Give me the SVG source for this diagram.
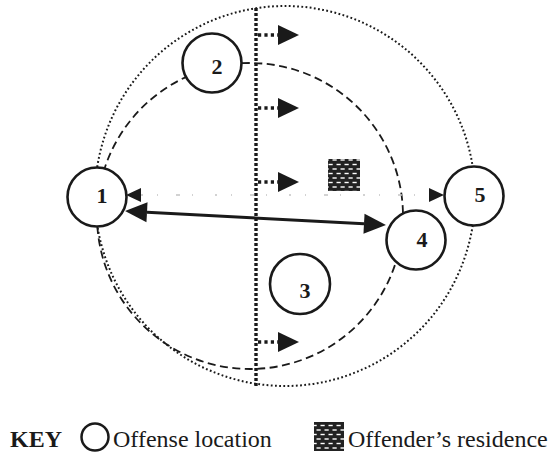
<svg xmlns="http://www.w3.org/2000/svg" width="554" height="454" viewBox="0 0 554 454">
  <style>
    .node { fill: #fff; stroke: #1a1a1a; stroke-width: 2.6; }
    .num { font-family: "Liberation Serif", "Times New Roman", serif; font-weight: bold; font-size: 22px; fill: #1a1a1a; text-anchor: middle; }
    .key { font-family: "Liberation Serif", "Times New Roman", serif; font-size: 24px; fill: #1a1a1a; }
    .range { fill: none; stroke: #1a1a1a; stroke-width: 2; stroke-dasharray: 1.8 2.4; }
    .path { fill: none; stroke: #1a1a1a; stroke-width: 1.8; stroke-dasharray: 8 4.5; }
    .divide { stroke: #1a1a1a; stroke-width: 3.4; stroke-dasharray: 3 2; }
    .shift { stroke: #1a1a1a; stroke-width: 3.4; stroke-dasharray: 3.2 3.2; marker-end: url(#shiftHead); }
    .link { stroke: #1a1a1a; stroke-width: 3; marker-start: url(#bigHead); marker-end: url(#bigHead); }
    .faint { stroke: #c4c4c4; stroke-width: 1.4; stroke-dasharray: 2 14 1 18 4 12 1 22; marker-start: url(#smallHead); marker-end: url(#smallHead); }
  </style>
  <defs>
    <marker id="bigHead" markerUnits="userSpaceOnUse" markerWidth="22" markerHeight="20" refX="0" refY="10" orient="auto-start-reverse" overflow="visible">
      <path d="M0,0 L22,10 L0,20 Z" fill="#1a1a1a"/>
    </marker>
    <marker id="smallHead" markerUnits="userSpaceOnUse" markerWidth="15" markerHeight="14" refX="0" refY="7" orient="auto-start-reverse" overflow="visible">
      <path d="M0,0 L15,7 L0,14 Z" fill="#1a1a1a"/>
    </marker>
    <marker id="shiftHead" markerUnits="userSpaceOnUse" markerWidth="21" markerHeight="20" refX="0" refY="10" orient="auto" overflow="visible">
      <path d="M0,0 L21,10 L0,20 Z" fill="#1a1a1a"/>
    </marker>
    <pattern id="brick" width="8" height="9" patternUnits="userSpaceOnUse">
      <rect width="8" height="9" fill="#222"/>
      <rect x="0.5" y="1.8" width="4.2" height="1.4" fill="#fff"/>
      <rect x="4.5" y="6.3" width="4.2" height="1.4" fill="#fff"/>
      <rect x="-3.5" y="6.3" width="4.2" height="1.4" fill="#fff"/>
    </pattern>
  </defs>

  <!-- search range and travel path -->
  <g id="zones">
    <circle class="range" cx="285" cy="196" r="190"/>
    <circle class="path" cx="250" cy="216" r="153"/>
    <line class="divide" x1="256" y1="8" x2="256" y2="386"/>
  </g>

  <g id="connectors">
    <line class="shift" x1="258" y1="35" x2="278" y2="35"/>
    <line class="shift" x1="258" y1="108" x2="278" y2="108"/>
    <line class="shift" x1="258" y1="182" x2="278" y2="182"/>
    <line class="shift" x1="258" y1="342" x2="278" y2="342"/>
    <line class="faint" x1="141" y1="195" x2="429" y2="195"/>
    <line class="link" x1="147" y1="212.2" x2="364" y2="223.8"/>
  </g>

  <g id="residence">
    <rect x="328" y="159" width="32" height="32" fill="url(#brick)"/>
  </g>

  <g id="n1"><circle class="node" cx="97" cy="197" r="29.5"/><text class="num" x="102" y="203">1</text></g>
  <g id="n2"><circle class="node" cx="212" cy="63" r="29.5"/><text class="num" x="217" y="74">2</text></g>
  <g id="n3"><circle class="node" cx="300" cy="284" r="30"/><text class="num" x="305" y="298">3</text></g>
  <g id="n4"><circle class="node" cx="416" cy="240" r="29.5"/><text class="num" x="422" y="247">4</text></g>
  <g id="n5"><circle class="node" cx="474" cy="196" r="29.5"/><text class="num" x="480" y="202">5</text></g>

  <g id="legend">
    <text class="key" x="10" y="447" font-weight="bold">KEY</text>
    <circle cx="95" cy="437" r="13.5" fill="none" stroke="#1a1a1a" stroke-width="2.5"/>
    <text class="key" x="113" y="447">Offense location</text>
    <rect x="314" y="422" width="30" height="29" fill="url(#brick)"/>
    <text class="key" x="348" y="447">Offender’s residence</text>
  </g>
</svg>
